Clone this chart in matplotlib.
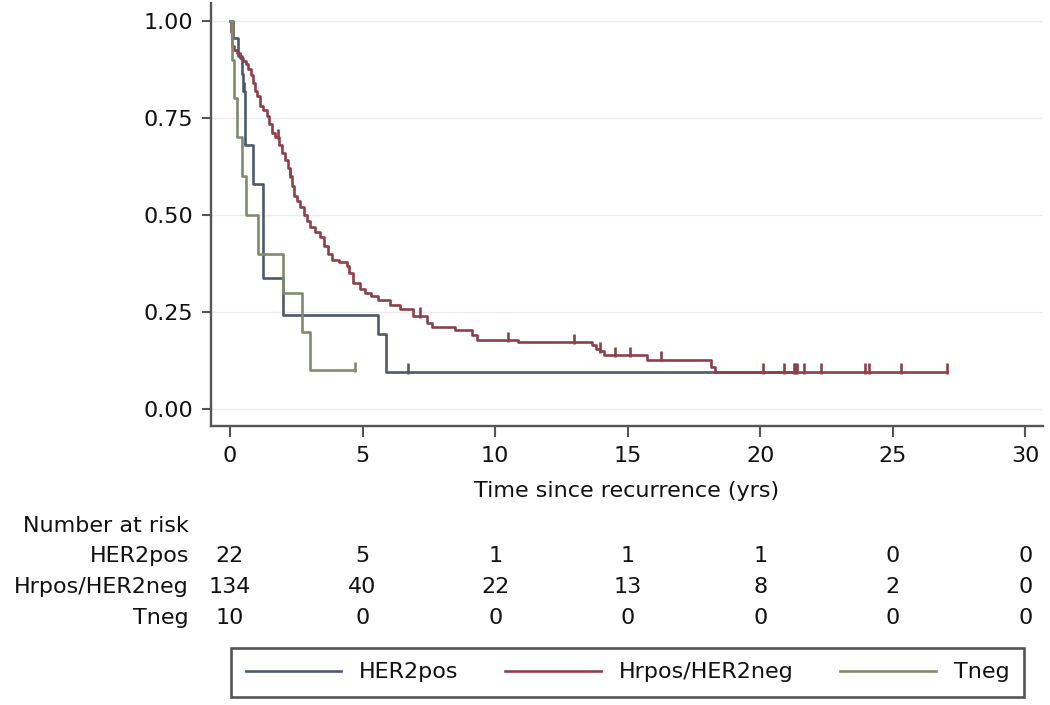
import numpy as np
import matplotlib
matplotlib.use("Agg")
import matplotlib.pyplot as plt
from matplotlib.transforms import blended_transform_factory

# Kaplan-Meier steps (time in years, survival)
her2pos_t = [0, 0.12, 0.3, 0.45, 0.5, 0.55, 0.85, 1.25, 2.0, 5.6, 5.9]
her2pos_s = [1.0, 0.955, 0.909, 0.864, 0.82, 0.68, 0.58, 0.337, 0.242, 0.195, 0.096]
her2pos_end = 21.3
her2pos_cens = [0.52, 6.7, 21.3]

hrpos_t = [0, 0.03, 0.06, 0.15, 0.25, 0.38, 0.5, 0.6, 0.69, 0.78, 0.88, 0.95,
           1.0, 1.13, 1.25, 1.38, 1.47, 1.57, 1.7, 1.85, 1.95, 2.08, 2.18, 2.26,
           2.33, 2.4, 2.52, 2.64, 2.8, 2.9, 3.02, 3.2, 3.4, 3.55, 3.7, 3.85,
           4.1, 4.4, 4.5, 4.65, 4.9, 5.1, 5.3, 5.6, 6.04, 6.42, 6.9, 7.42, 7.6,
           8.5, 9.12, 9.31, 10.88, 13.65, 13.8, 13.96, 14.1, 15.72, 18.15, 18.3]
hrpos_s = [1.0, 0.97, 0.934, 0.925, 0.917, 0.905, 0.895, 0.888, 0.875, 0.86, 0.84, 0.82,
           0.805, 0.78, 0.77, 0.755, 0.735, 0.71, 0.70, 0.68, 0.66, 0.642, 0.62, 0.60,
           0.575, 0.55, 0.535, 0.52, 0.50, 0.485, 0.47, 0.455, 0.444, 0.42, 0.40, 0.385,
           0.378, 0.37, 0.35, 0.325, 0.31, 0.30, 0.292, 0.28, 0.268, 0.258, 0.24, 0.221, 0.212,
           0.205, 0.19, 0.178, 0.172, 0.165, 0.155, 0.15, 0.139, 0.128, 0.11, 0.096]
hrpos_end = 27.05
hrpos_cens = [1.82, 2.26, 7.17, 10.5, 12.96, 13.96, 14.53, 15.09, 16.25, 20.1, 20.9,
              21.28, 21.37, 21.64, 22.3, 23.95, 24.1, 25.3, 27.05]

tneg_t = [0, 0.08, 0.15, 0.25, 0.44, 0.62, 1.05, 2.0, 2.7, 3.0]
tneg_s = [1.0, 0.9, 0.8, 0.7, 0.6, 0.5, 0.4, 0.3, 0.2, 0.1]
tneg_end = 4.72
tneg_cens = [4.72]

# number at risk table
risk_times = [0, 5, 10, 15, 20, 25, 30]
group_names = ["HER2pos", "Hrpos/HER2neg", "Tneg"]
her2pos_risk = [22, 5, 1, 1, 1, 0, 0]
hrpos_risk = [134, 40, 22, 13, 8, 2, 0]
tneg_risk = [10, 0, 0, 0, 0, 0, 0]

colors = ["#4b5a6b", "#8c4048", "#7f8c6c"]
txt = "#111111"
plt.rcParams["font.family"] = ["DejaVu Sans"]
fs = 16

fig = plt.figure(figsize=(10.5, 7.05), dpi=100)
ax = fig.add_axes([211/1050, 1-426/705, (1043-211)/1050, (426-3)/705])


def km(t, s, t_end, cens, color, label):
    tt = np.append(t, t_end)
    ss = np.append(s, s[-1])
    line, = ax.step(tt, ss, where="post", color=color, lw=1.9, label=label, zorder=3)
    idx = np.searchsorted(t, cens, side="right") - 1
    cs = np.asarray(s)[idx]
    ax.vlines(cens, cs - 0.004, cs + 0.022, color=color, lw=1.9, zorder=3)
    return line


l1 = km(her2pos_t, her2pos_s, her2pos_end, her2pos_cens, colors[0], group_names[0])
l2 = km(hrpos_t, hrpos_s, hrpos_end, hrpos_cens, colors[1], group_names[1])
l3 = km(tneg_t, tneg_s, tneg_end, tneg_cens, colors[2], group_names[2])

yt = [0, 0.25, 0.5, 0.75, 1.0]
for y in yt:
    ax.axhline(y, color="#ebebeb", lw=1, zorder=0)

ax.set_xlim(-0.716, 30.66)
ax.set_ylim(-0.043, 1.0455)
ax.set_xticks(risk_times)
ax.set_yticks(yt)
ax.set_yticklabels(["%.2f" % v for v in yt])
for side in ["top", "right"]:
    ax.spines[side].set_visible(False)
for side in ["left", "bottom"]:
    ax.spines[side].set_color("#555555")
    ax.spines[side].set_linewidth(1.7)
ax.tick_params(axis="x", length=8, width=1.5, color="#555555", pad=6.5,
               labelsize=fs, labelcolor=txt)
ax.tick_params(axis="y", length=6.5, width=1.5, color="#555555", pad=6.5,
               labelsize=fs, labelcolor=txt)

fig.text((211 + 1043) / 2 / 1050, 1 - 497/705, "Time since recurrence (yrs)",
         ha="center", va="baseline", fontsize=fs, color=txt)

# number at risk
tr = blended_transform_factory(ax.transData, fig.transFigure)
lab_x = 189 / 1050
fig.text(lab_x, 1 - 532/705, "Number at risk", ha="right", va="baseline",
         fontsize=fs, color=txt)
rows = [her2pos_risk, hrpos_risk, tneg_risk]
row_y = [562.5, 593, 623.5]
for name, vals, yb in zip(group_names, rows, row_y):
    fig.text(lab_x, 1 - yb/705, name, ha="right", va="baseline", fontsize=fs, color=txt)
    for t, v in zip(risk_times, vals):
        ax.text(t, 1 - yb/705, str(v), transform=tr, ha="center", va="baseline",
                fontsize=fs, color=txt)

leg = fig.legend(handles=[l1, l2, l3], loc="center", ncol=3, mode="expand",
                 bbox_to_anchor=(220/1050, 1 - 698/705, 815/1050, 51/705),
                 fontsize=fs, handlelength=4.3, handletextpad=0.8, borderpad=0.65,
                 fancybox=False, framealpha=1, edgecolor="#555555")
leg.get_frame().set_linewidth(1.9)
for t in leg.get_texts():
    t.set_color(txt)

fig.savefig("out.png", dpi=100)
